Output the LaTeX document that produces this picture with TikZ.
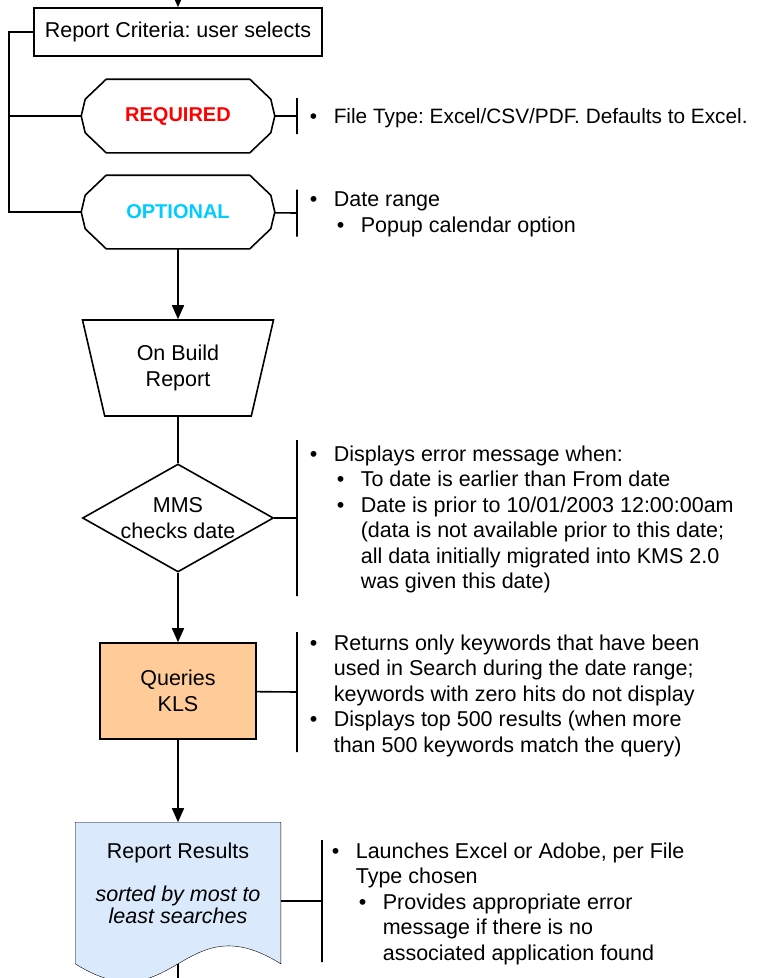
\documentclass[tikz,border=0pt]{standalone}
\usepackage{fontspec}
\setmainfont{Liberation Sans}
\usetikzlibrary{shapes.geometric,arrows.meta,backgrounds}
\definecolor{kmsred}{HTML}{FF0000}
\definecolor{kmscyan}{HTML}{00CCFF}
\definecolor{kmspeach}{HTML}{FFCC99}
\definecolor{kmsblue}{HTML}{DAEAFC}
\frenchspacing
\newcommand{\bul}{\makebox[24pt][l]{\textbullet}}
\newcommand{\bulind}{\hspace*{24pt}}
\newcommand{\subbul}{\hspace*{27pt}\makebox[24pt][l]{\textbullet}}
\newcommand{\subind}{\hspace*{51pt}}
\begin{document}
\begin{tikzpicture}[x=1pt,y=-1pt,line width=1.6pt,
		font=\fontsize{21.5pt}{25.5pt}\selectfont,
		proc/.style={draw,rectangle,inner sep=0pt,align=center},
		choice/.style={rectangle,inner sep=0pt,minimum width=192pt,minimum
					height=72pt,font=\fontsize{20pt}{24pt}\selectfont\bfseries},
		event/.style={draw,trapezium,shape border rotate=180,trapezium left
					angle=64,trapezium right angle=64,trapezium stretches body,minimum
					width=191pt,minimum height=96pt,inner sep=0pt,align=center},
		decision/.style={draw,diamond,minimum width=191pt,minimum
					height=108pt,inner sep=0pt},
		docshape/.style={rectangle,inner sep=0pt,minimum width=204pt,minimum
					height=140pt},
		notebar/.style={draw,rectangle,inner sep=0pt,minimum width=0pt,minimum
					height=#1},
		note/.style={anchor=north west,inner sep=0pt,align=left},
		arr/.style={-{Triangle[length=14pt,width=12pt]}}]
	\useasboundingbox (0,0) rectangle (759,978);
	% flow
	\coordinate (intop) at (178,0);
	\node[proc,minimum width=288pt,minimum height=48pt] (crit) at (178,32)
	{Report Criteria: user selects};
	\node[choice,text=kmsred] (req) at (178,116) {REQUIRED};
	\node[choice,text=kmscyan] (opt) at (178,212) {OPTIONAL};
	\foreach \c in {req,opt}
	\draw ([xshift=25pt]\c.north west) -- ([xshift=-25pt]\c.north east)
	-- ([xshift=-4pt,yshift=-20pt]\c.north east) -- (\c.east)
	-- ([xshift=-4pt,yshift=20pt]\c.south east) -- ([xshift=-25pt]\c.south east)
	-- ([xshift=25pt]\c.south west) -- ([xshift=4pt,yshift=20pt]\c.south west)
	-- (\c.west) -- ([xshift=4pt,yshift=-20pt]\c.north west) -- cycle;
	\node[event] (build) at (178,368) {On Build\\Report};
	\node[decision,label={[align=center]center:MMS\\checks date}] (check)
	at (178,518) {};
	\node[proc,fill=kmspeach,minimum width=156pt,minimum height=96pt]
	(queries) at (178,691) {Queries\\KLS};
	\node[docshape] (results) at (178,893) {};
	\begin{scope}[on background layer]
		\draw[fill=kmsblue] (results.south west) -- (results.north west)
		-- (results.north east) -- (results.south east)
		.. controls +(-99,-62) and +(99,62) .. (results.south west) -- cycle;
	\end{scope}
	\node[align=center,font=\fontsize{21.5pt}{22pt}\selectfont] (restext)
	at (178,883) {Report Results\\[21pt]\textit{sorted by most to}\\
		\textit{least searches}};
	\coordinate (outbot) at (178,978);
	% connectors
	\draw[arr] (intop) -- (crit);
	\draw (crit.west) -- ++(-24,0) coordinate (spine) |- (opt.west);
	\draw (spine |- req) -- (req.west);
	\draw[arr] (opt) -- (build);
	\draw (build) -- (check);
	\draw[arr] (check) -- (queries);
	\draw[arr] (queries) -- (results);
	\draw (results.south) -- (outbot);
	% notes
	\node[notebar=36pt] (reqbar) at (297,116) {};
	\node[notebar=47pt] (optbar) at (297,213) {};
	\node[notebar=156pt] (chkbar) at (297,518) {};
	\node[notebar=120pt] (qbar) at (297,692) {};
	\node[notebar=122pt] (resbar) at (322,901) {};
	\draw (req) -- (reqbar);
	\draw (opt) -- (optbar);
	\draw (check) -- (chkbar);
	\draw (queries) -- (qbar);
	\draw (resbar -| results.east) -- (resbar);
	\node[note,font=\fontsize{20.8pt}{25pt}\selectfont] (reqnote) at (309,108)
	{\bul File Type: Excel/CSV/PDF. Defaults to Excel.};
	\node[note] (optnote) at (309,191)
	{\bul Date range\\\subbul Popup calendar option};
	\node[note] (chknote) at (309,445)
	{\bul Displays error message when:\\
		\subbul To date is earlier than From date\\
		\subbul Date is prior to 10/01/2003 12:00:00am\\
		\subind (data is not available prior to this date;\\
		\subind all data initially migrated into KMS 2.0\\
		\subind was given this date)};
	\node[note] (qnote) at (309,634)
	{\bul Returns only keywords that have been\\
		\bulind used in Search during the date range;\\
		\bulind keywords with zero hits do not display\\
		\bul Displays top 500 results (when more\\
		\bulind than 500 keywords match the query)};
	\node[note] (resnote) at (331,842)
	{\bul Launches Excel or Adobe, per File\\
		\bulind Type chosen\\
		\subbul Provides appropriate error\\
		\subind message if there is no\\
		\subind associated application found};
\end{tikzpicture}
\end{document}
